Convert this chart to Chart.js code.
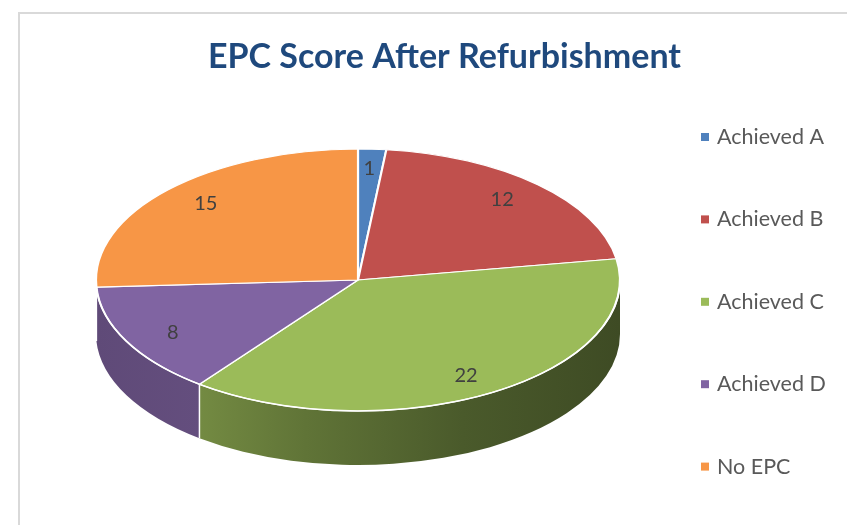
<!DOCTYPE html>
<html>
<head>
<meta charset="utf-8">
<script src="https://cdn.jsdelivr.net/npm/chart.js@4"></script>
<style>
html, body { margin: 0; padding: 0; background: #fff; }
canvas { display: block; }
</style>
</head>
<body>
<canvas id="c" width="847" height="525"></canvas>
<script>
var categories = ['Achieved A', 'Achieved B', 'Achieved C', 'Achieved D', 'No EPC'];
var values = [1, 12, 22, 8, 15];
var colors = ['#4F81BD', '#C0504D', '#9BBB59', '#8064A2', '#F79646'];
var titleText = 'EPC Score After Refurbishment';

var FONT = 'Lato, "Open Sans", sans-serif';
var TILT = 0.5;       // ry / rx of the flattened pie
var DEPTH = 54;       // height of the pie wall
var LEFT_INSET = 54;  // from chart area left to pie left edge

function shade(hex, f){
	var n = parseInt(hex.slice(1), 16);
	var r = Math.round(((n >> 16) & 255) * f), g = Math.round(((n >> 8) & 255) * f), b = Math.round((n & 255) * f);
	return 'rgb(' + r + ',' + g + ',' + b + ')';
}

function geom(chart){
	var a = chart.chartArea;
	var ry = (a.bottom - a.top - DEPTH) / 2;
	var rx = ry / TILT;
	return {cx: a.left + LEFT_INSET + rx, cy: a.top + ry, rx: rx, ry: ry};
}

var pie3d = {
	id: 'pie3d',
	beforeDraw: function(chart){
		var ctx = chart.ctx;
		ctx.save();
		ctx.strokeStyle = '#d9d9d9';
		ctx.lineWidth = 2;
		ctx.strokeRect(19, 13, 900, 600);
		ctx.restore();
	},
	beforeDatasetsDraw: function(chart){
		var ctx = chart.ctx, g = geom(chart);
		var arcs = chart.getDatasetMeta(0).data;
		// walls of the front half
		arcs.forEach(function(arc, i){
			var s = Math.max(arc.startAngle, 0), e = Math.min(arc.endAngle, Math.PI);
			if (e <= s) return;
			var grad = ctx.createLinearGradient(g.cx - g.rx, 0, g.cx + g.rx, 0);
			var k = i === 3 ? 0.78 : 0.74;
			grad.addColorStop(0, shade(colors[i], k - 0.04));
			grad.addColorStop(0.2, shade(colors[i], k));
			grad.addColorStop(0.4, shade(colors[i], k - 0.12));
			grad.addColorStop(0.7, shade(colors[i], k - 0.26));
			grad.addColorStop(1, shade(colors[i], k - 0.34));
			ctx.beginPath();
			ctx.ellipse(g.cx, g.cy, g.rx, g.ry, 0, s, e, false);
			ctx.ellipse(g.cx, g.cy + DEPTH, g.rx, g.ry, 0, e, s, true);
			ctx.closePath();
			ctx.fillStyle = grad;
			ctx.fill();
		});
		// seams between walls
		ctx.save();
		ctx.strokeStyle = '#ffffff';
		ctx.lineWidth = 1.5;
		arcs.forEach(function(arc){
			var t = arc.endAngle;
			if (t > 0 && t < Math.PI){
				var x = g.cx + g.rx * Math.cos(t), y = g.cy + g.ry * Math.sin(t);
				ctx.beginPath();
				ctx.moveTo(x, y);
				ctx.lineTo(x, y + DEPTH);
				ctx.stroke();
			}
		});
		ctx.restore();
		// flatten the top face drawn by Chart.js
		var a0 = arcs[0];
		ctx.save();
		ctx.translate(g.cx, g.cy);
		ctx.scale(g.rx / a0.outerRadius, g.ry / a0.outerRadius);
		ctx.translate(-a0.x, -a0.y);
	},
	afterDatasetsDraw: function(chart){
		var ctx = chart.ctx, g = geom(chart);
		ctx.restore();
		var arcs = chart.getDatasetMeta(0).data;
		ctx.save();
		ctx.strokeStyle = '#ffffff';
		ctx.lineWidth = 1.5;
		ctx.beginPath();
		ctx.ellipse(g.cx, g.cy, g.rx, g.ry, 0, 0, Math.PI, false);
		ctx.stroke();
		// value labels
		ctx.font = '20px ' + FONT;
		ctx.fillStyle = '#404040';
		ctx.textAlign = 'center';
		ctx.textBaseline = 'middle';
		arcs.forEach(function(arc, i){
			var m = (arc.startAngle + arc.endAngle) / 2;
			ctx.fillText(String(values[i]), g.cx + 0.8 * g.rx * Math.cos(m), g.cy + 0.85 * g.ry * Math.sin(m));
		});
		ctx.restore();
	},
	afterDraw: function(chart){
		// legend on the right
		var ctx = chart.ctx;
		ctx.save();
		ctx.font = '21.5px ' + FONT;
		ctx.textBaseline = 'middle';
		ctx.textAlign = 'left';
		categories.forEach(function(c, i){
			var y = 137 + i * 82.4;
			ctx.fillStyle = colors[i];
			ctx.fillRect(701, y - 4, 8, 8);
			ctx.fillStyle = '#595959';
			ctx.fillText(c, 717, y);
		});
		ctx.restore();
	}
};

new Chart(document.getElementById('c'), {
	type: 'pie',
	data: {
		labels: categories,
		datasets: [{
			data: values,
			backgroundColor: colors,
			borderColor: '#ffffff',
			borderWidth: 1.3,
			clip: false
		}]
	},
	options: {
		responsive: false,
		animation: false,
		devicePixelRatio: 1,
		layout: {padding: {left: 42, right: 0, top: 0, bottom: 60}},
		plugins: {
			legend: {display: false},
			tooltip: {enabled: false},
			title: {
				display: true,
				text: titleText,
				color: '#1F497D',
				font: {family: FONT, size: 34, weight: 'bold'},
				padding: {top: 36.6, bottom: 71.6}
			}
		}
	},
	plugins: [pie3d]
});
</script>
</body>
</html>
